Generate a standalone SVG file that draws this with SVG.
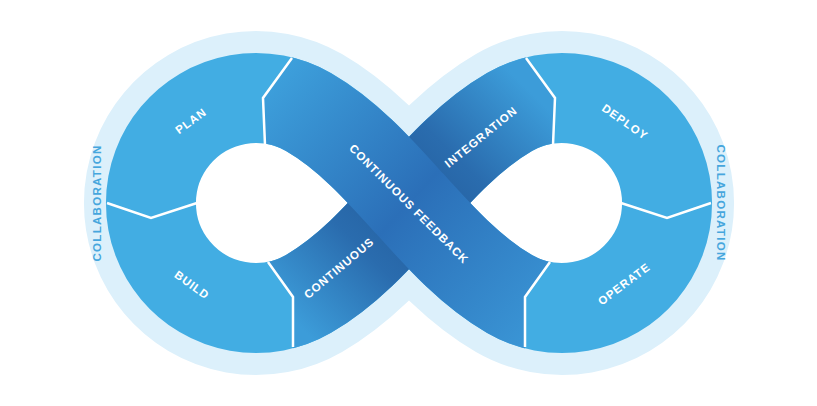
<svg xmlns="http://www.w3.org/2000/svg" width="817" height="406" viewBox="0 0 817 406">
<defs>
<style>
.lbl{font-family:"Liberation Sans",Arial,sans-serif;font-weight:bold;font-size:11.5px;fill:#ffffff;letter-spacing:1px;text-anchor:middle;dominant-baseline:central}
.col{fill:#46a6dd;letter-spacing:1.3px}
.div{fill:none;stroke:#ffffff;stroke-width:2.5;stroke-linejoin:miter}
.band{fill:none;stroke-width:90}
</style>
<path id="loop" d="M409,203 C378.9,169.6 347.5,134.6 308.5,112.1 A105,105 0 1 0 308.5,293.9 C347.5,271.4 378.9,236.4 409,203 C439.1,169.6 470.5,134.6 509.5,112.1 A105,105 0 1 1 509.5,293.9 C470.5,271.4 439.1,236.4 409,203 Z"/>
<linearGradient id="gU" gradientUnits="userSpaceOnUse" x1="293" y1="320" x2="525" y2="86">
<stop offset="0" stop-color="#3c9cd9"/>
<stop offset="0.3" stop-color="#2a6cae"/>
<stop offset="0.5" stop-color="#245f9f"/>
<stop offset="0.7" stop-color="#2a6cae"/>
<stop offset="1" stop-color="#3c9cd9"/>
</linearGradient>
<linearGradient id="gF" gradientUnits="userSpaceOnUse" x1="275" y1="80" x2="543" y2="326">
<stop offset="0" stop-color="#3d9fdb"/>
<stop offset="0.5" stop-color="#2b6fb8"/>
<stop offset="1" stop-color="#3a95d5"/>
</linearGradient>
<clipPath id="cU"><polygon points="293,406 293,297 268,262 240,223 240,0 484,0 526,58 555,98 553,145 553,406"/></clipPath>
<clipPath id="cF"><polygon points="334,0 292,58 263,98 265,145 265,240 420,406 525,406 525,347 525,297 550,262 590,210 590,0"/></clipPath>
</defs>
<rect width="817" height="406" fill="#ffffff"/>
<g id="halo">
<use href="#loop" fill="none" stroke="#dcf0fb" stroke-width="134"/>
<use href="#loop" fill="#ffffff" stroke="none"/>
</g>
<g id="band">
<use href="#loop" class="band" stroke="#42ade3"/>
</g>
<g id="continuous-integration">
<path class="band" clip-path="url(#cU)" stroke="url(#gU)" d="M237.8,306.4 A105,105 0 0 0 308.5,293.9 C347.5,271.4 378.9,236.4 409,203 C439.1,169.6 470.5,134.6 509.5,112.1 A105,105 0 0 1 580.2,99.6"/>
<text class="lbl" transform="translate(339,268) rotate(-40)">CONTINUOUS</text>
<text class="lbl" transform="translate(481,137) rotate(-39)">INTEGRATION</text>
</g>
<g id="continuous-feedback">
<path class="band" clip-path="url(#cF)" stroke="url(#gF)" d="M237.8,99.6 A105,105 0 0 1 308.5,112.1 C347.5,134.6 378.9,169.6 409,203 C439.1,236.4 470.5,271.4 509.5,293.9 A105,105 0 0 0 580.2,306.4"/>
<text class="lbl" transform="translate(409,204) rotate(45)">CONTINUOUS FEEDBACK</text>
</g>
<g id="plan"><text class="lbl" transform="translate(191,121) rotate(-36)">PLAN</text></g>
<g id="build"><text class="lbl" transform="translate(192,285) rotate(36)">BUILD</text></g>
<g id="deploy"><text class="lbl" transform="translate(625,122) rotate(35)">DEPLOY</text></g>
<g id="operate"><text class="lbl" transform="translate(624,284) rotate(-37)">OPERATE</text></g>
<g id="collaboration-left"><text class="lbl col" transform="translate(97,203) rotate(-90)">COLLABORATION</text></g>
<g id="collaboration-right"><text class="lbl col" transform="translate(721,203) rotate(90)">COLLABORATION</text></g>
<g id="connectors">
<polyline class="div" points="292,58 263,98 265,145"/>
<polyline class="div" points="107,203 151,218 197,203"/>
<polyline class="div" points="268,262 293,297 293,347"/>
<polyline class="div" points="526,58 555,98 553,145"/>
<polyline class="div" points="711,203 667,218 621,203"/>
<polyline class="div" points="550,262 525,297 525,347"/>
</g>
</svg>
